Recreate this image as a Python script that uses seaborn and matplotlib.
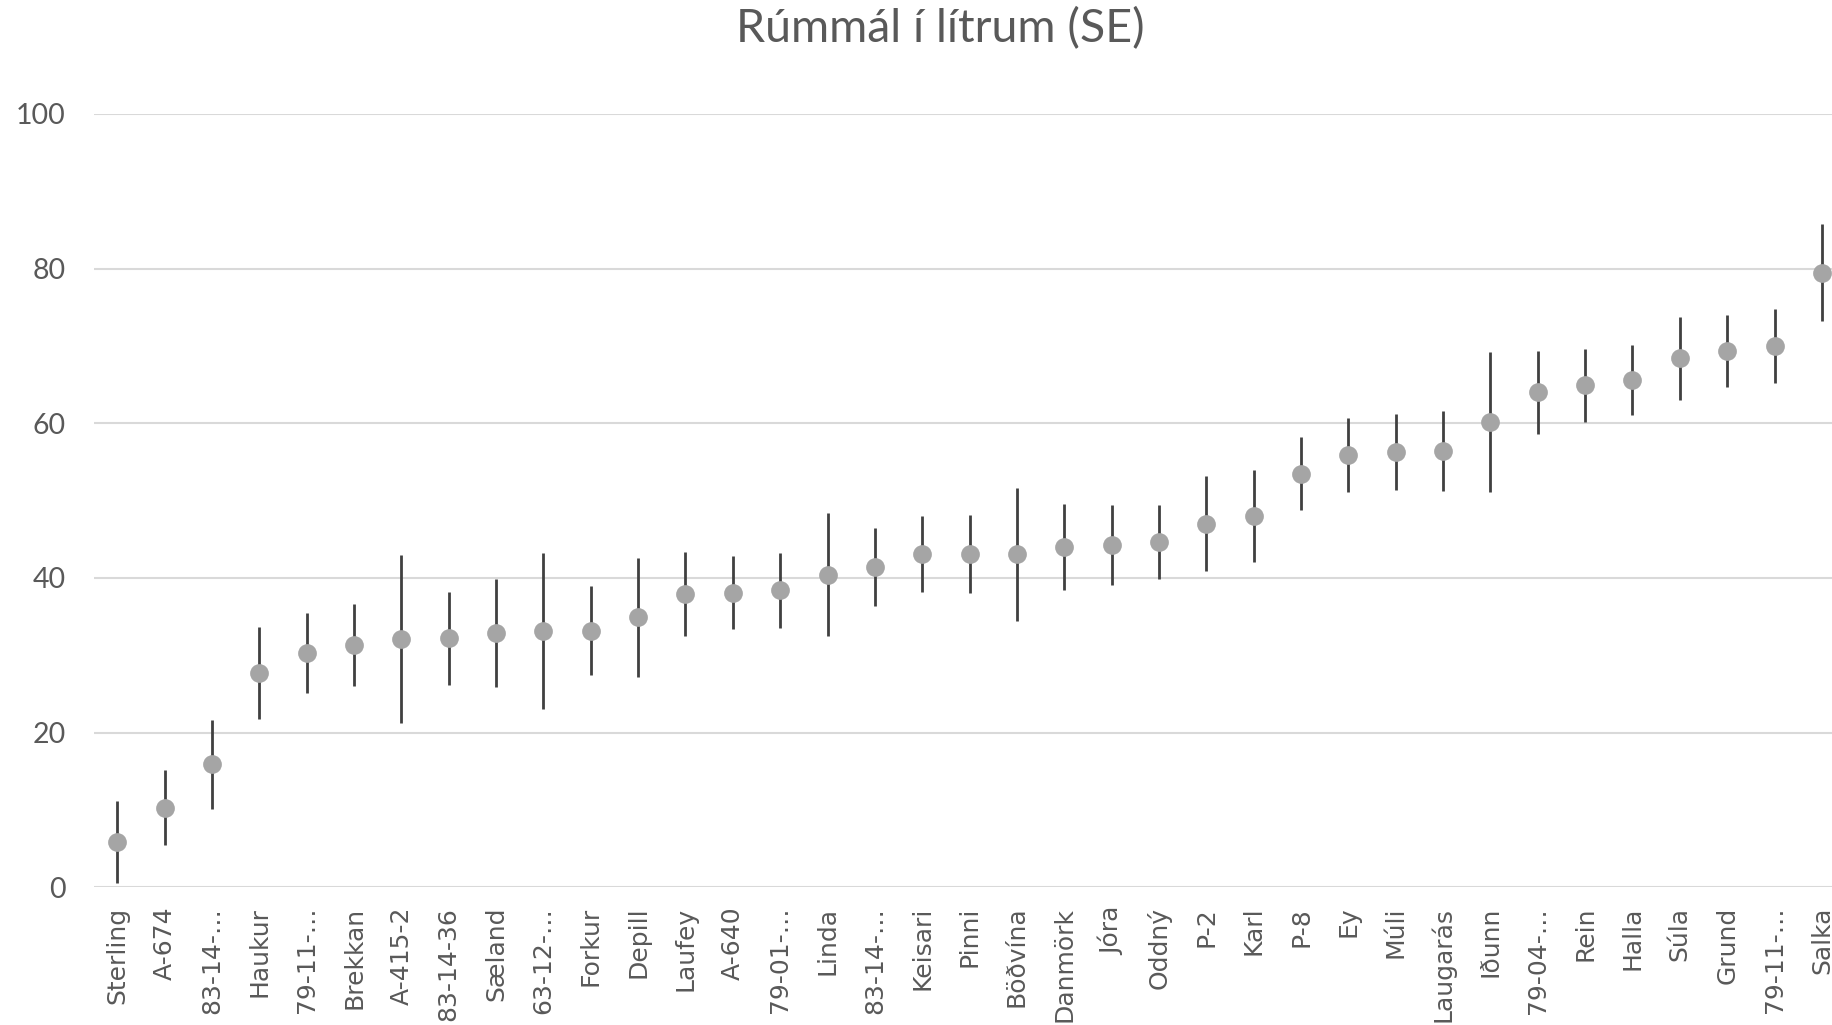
import matplotlib
matplotlib.use("Agg")
import matplotlib.pyplot as plt
import seaborn as sns
import pandas as pd

# Cultivar names, mean volume (litres) and standard error
names = [
    "Sterling", "A-674", "83-14-…", "Haukur", "79-11-…", "Brekkan", "A-415-2",
    "83-14-36", "Sæland", "63-12-…", "Forkur", "Depill", "Laufey", "A-640",
    "79-01-…", "Linda", "83-14-…", "Keisari", "Pinni", "Böðvína", "Danmörk",
    "Jóra", "Oddný", "P-2", "Karl", "P-8", "Ey", "Múli", "Laugarás", "Iðunn",
    "79-04-…", "Rein", "Halla", "Súla", "Grund", "79-11-…", "Salka",
]
means = [
    5.8, 10.3, 15.9, 27.7, 30.3, 31.3, 32.1, 32.2, 32.9, 33.1, 33.2, 34.9,
    37.9, 38.1, 38.4, 40.4, 41.4, 43.1, 43.1, 43.1, 44.0, 44.3, 44.7, 47.0,
    48.0, 53.5, 55.9, 56.3, 56.4, 60.2, 64.0, 64.9, 65.6, 68.4, 69.4, 70.0,
    79.5,
]
se = [
    5.3, 4.85, 5.8, 5.9, 5.2, 5.3, 10.9, 6.05, 6.95, 10.1, 5.75, 7.7,
    5.45, 4.7, 4.85, 7.95, 5.05, 4.95, 5.0, 8.6, 5.6, 5.2, 4.8, 6.15,
    5.95, 4.75, 4.8, 4.9, 5.15, 9.05, 5.35, 4.75, 4.5, 5.4, 4.65, 4.75,
    6.25,
]
y_ticks = [0, 20, 40, 60, 80, 100]
title = "Rúmmál í lítrum (SE)"

# unique keys so repeated labels stay separate categories
keys = [f"{i}" for i in range(len(names))]
df = pd.DataFrame({"key": keys, "mean": means, "se": se})

sns.set_theme(style="white")
plt.rcParams["font.family"] = ["DejaVu Sans"]

TEXT = "#595959"
fig = plt.figure(figsize=(18.32, 10.25), dpi=100)
ax = fig.add_axes([0.0511, 0.1343, 0.9563, 0.7545])

# horizontal grid behind everything
for t in y_ticks:
    ax.axhline(t, color="#d9d9d9", lw=1.5, zorder=0)

# standard-error whiskers
ax.errorbar(range(len(df)), df["mean"], yerr=df["se"], fmt="none",
            ecolor="#404040", elinewidth=2.0, capsize=0, zorder=2)

# point estimates
sns.stripplot(data=df, x="key", y="mean", jitter=False, color="#a5a5a5",
              size=13.5, linewidth=0, ax=ax, zorder=3)

ax.set_xlim(-0.5, len(df) - 0.5)
ax.set_ylim(0, 100)
ax.set_yticks(y_ticks)
ax.set_yticklabels([str(t) for t in y_ticks], family=["Lato", "DejaVu Sans"],
                   fontsize=20.5, color=TEXT)
ax.set_xticks(range(len(df)))
ax.set_xticklabels(names, rotation=90, fontsize=18, color=TEXT,
                   ha="center", va="top")
ax.tick_params(axis="x", length=0, pad=14)
ax.tick_params(axis="y", length=0, pad=20)
ax.set_xlabel("")
ax.set_ylabel("")
for s in ax.spines.values():
    s.set_visible(False)
ax.grid(False)

fig.text(0.513, 0.972, title, ha="center", va="center", fontsize=33.5,
         color=TEXT, family=["Lato", "DejaVu Sans"])

fig.savefig("out.png", dpi=100)
